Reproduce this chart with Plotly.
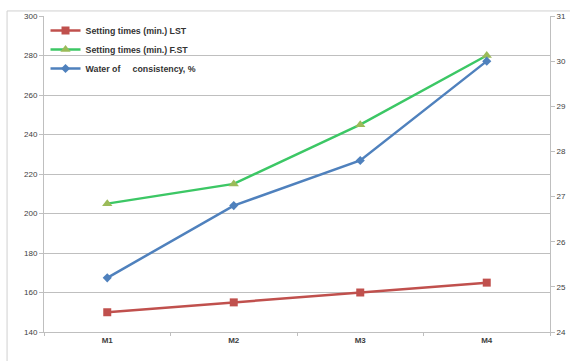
import plotly.graph_objects as go

categories = ["M1", "M2", "M3", "M4"]
lst_values = [150, 155, 160, 165]
fst_values = [205, 215, 245, 280]
water_values = [25.2, 26.8, 27.8, 30.0]
left_ticks = [140, 160, 180, 200, 220, 240, 260, 280, 300]
right_ticks = [24, 25, 26, 27, 28, 29, 30, 31]

font_family = "Liberation Sans, Arial, sans-serif"

fig = go.Figure()
fig.add_trace(go.Scatter(
    x=categories, y=lst_values, name="<b>Setting times (min.) LST</b>",
    mode="lines+markers", line=dict(color="#C0504D", width=2.5),
    marker=dict(symbol="square", size=8, color="#C0504D"),
    legendgroup="a"))
fig.add_trace(go.Scatter(
    x=categories, y=fst_values, name="<b>Setting times (min.) F.ST</b>",
    mode="lines+markers", line=dict(color="#3CC765", width=2.5),
    marker=dict(symbol="triangle-up", size=9, color="#9BBB59"),
    legendgroup="b"))
fig.add_trace(go.Scatter(
    x=categories, y=water_values, name="<b>Water of&nbsp;&nbsp;&nbsp;&nbsp; consistency, %</b>",
    mode="lines+markers", line=dict(color="#4F81BD", width=2.5),
    marker=dict(symbol="diamond", size=7, color="#4F81BD"),
    yaxis="y2", legendgroup="c"))

fig.update_layout(
    width=570, height=361,
    margin=dict(l=44, r=20, t=16, b=29, autoexpand=False),
    paper_bgcolor="white", plot_bgcolor="white",
    font=dict(family=font_family, size=8, color="#404040"),
    showlegend=True,
    legend=dict(x=0.003, y=1.0, xanchor="left", yanchor="top",
                bgcolor="rgba(0,0,0,0)", font=dict(size=8.8, color="#333333"),
                tracegroupgap=0, itemwidth=30, traceorder="grouped"),
    xaxis=dict(type="category", range=[-0.5, 3.5], showgrid=False, automargin=False,
               showline=True, linecolor="#BFBFBF", linewidth=1,
               ticks="outside", tickson="boundaries", ticklen=3, tickcolor="#BFBFBF",
               tickfont=dict(size=8, color="#404040", family=font_family),
               tickprefix="<b>", ticksuffix="</b>", zeroline=False),
    yaxis=dict(range=[140, 300], tickvals=left_ticks, showgrid=True, automargin=False,
               gridcolor="#BFBFBF", gridwidth=1,
               showline=True, linecolor="#BFBFBF", linewidth=1,
               ticks="outside", ticklen=4, tickcolor="#BFBFBF",
               tickfont=dict(size=8, color="#404040", family=font_family),
               tickprefix="<b>", ticksuffix="</b>", zeroline=False),
    yaxis2=dict(range=[24, 31], tickvals=right_ticks, overlaying="y", side="right",
                showgrid=False, automargin=False,
                showline=True, linecolor="#BFBFBF", linewidth=1,
                ticks="outside", ticklen=4, tickcolor="#BFBFBF",
                tickfont=dict(size=8, color="#404040", family=font_family),
                zeroline=False),
    shapes=[dict(type="rect", xref="paper", yref="paper",
                 x0=-0.073, x1=1.06, y0=-0.12, y1=1.016,
                 line=dict(color="#D0D0D0", width=1), fillcolor="rgba(0,0,0,0)",
                 layer="below")],
)

fig.write_html("out.html")
